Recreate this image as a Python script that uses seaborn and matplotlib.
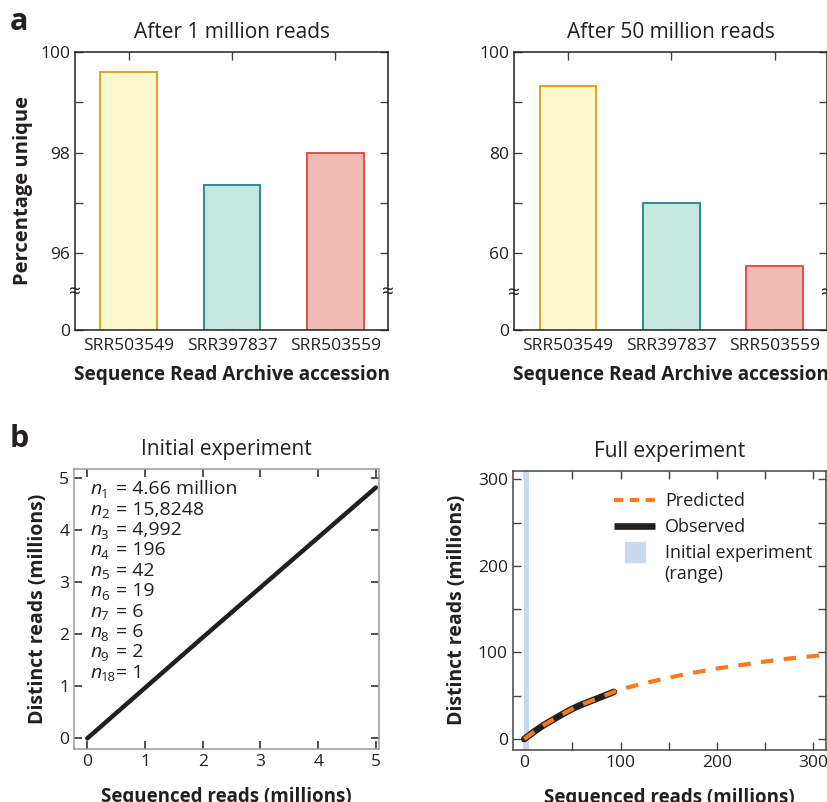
import numpy as np
import pandas as pd
import matplotlib
matplotlib.use('Agg')
import matplotlib.pyplot as plt
from matplotlib.lines import Line2D
import seaborn as sns

# ---- data ----
accessions = ['SRR503549', 'SRR397837', 'SRR503559']
unique_1m = [99.6, 97.35, 98.0]
unique_50m = [93.3, 69.9, 57.5]

init_seq = [0, 1, 2, 3, 4, 5]
init_distinct = [0, 0.97, 1.94, 2.90, 3.86, 4.82]

n_labels = ['1', '2', '3', '4', '5', '6', '7', '8', '9', '18']
n_values = ['4.66 million', '15,8248', '4,992', '196', '42', '19', '6', '6', '2', '1']

pred_seq = [0, 10, 20, 30, 40, 50, 60, 75, 93, 100, 125, 150, 175, 200, 225, 250, 275, 310]
pred_distinct = [0, 8.3, 16, 22.5, 29, 35, 40, 46.5, 54.5, 57.5, 64.5, 71, 76.5, 81.5,
                 85.5, 89.5, 93, 97]
obs_seq = [0, 10, 20, 30, 40, 50, 60, 75, 93]
obs_distinct = [0, 8.3, 16, 22.5, 29, 35, 40, 46.5, 54.5]
init_range = (0, 5)

fills = ['#fff8cc', '#c6e6e0', '#f1bab2']
edges = ['#e2a21c', '#2e8c8a', '#e05048']

sns.set_style('ticks')
plt.rcParams['font.family'] = ['Open Sans', 'DejaVu Sans']
plt.rcParams['text.color'] = '#231f20'
plt.rcParams['axes.labelcolor'] = '#231f20'
plt.rcParams['xtick.color'] = '#231f20'
plt.rcParams['ytick.color'] = '#231f20'

fig = plt.figure(figsize=(8.28, 8.02), dpi=100)
ax1 = fig.add_axes([0.0906, 0.5885, 0.378, 0.3467])
ax2 = fig.add_axes([0.6211, 0.5885, 0.378, 0.3467])
ax3 = fig.add_axes([0.0894, 0.0657, 0.3687, 0.3491])
ax4 = fig.add_axes([0.6192, 0.0648, 0.3784, 0.3483])


def bar_panel(ax, values, title, floor, ticks, minors, brk):
    df = pd.DataFrame({'acc': accessions, 'pct': values})
    sns.barplot(data=df, x='acc', y='pct', hue='acc', palette=fills, saturation=1,
                width=0.55, legend=False, ax=ax)
    for p, ec in zip(ax.patches, edges):
        p.set_edgecolor(ec)
        p.set_linewidth(1.4)
    ax.set_ylim(floor, 100)
    ax.set_xlim(-0.52, 2.51)
    ax.set_yticks([floor] + ticks)
    ax.set_yticklabels(['0'] + [str(t) for t in ticks])
    ax.set_yticks(minors, minor=True)
    ax.tick_params(axis='both', which='both', direction='in', top=True, right=True,
                   length=5.5, width=1, color='#444', labelsize=12.5)
    ax.tick_params(axis='x', pad=6)
    for s in ax.spines.values():
        s.set_color('#231f20')
        s.set_linewidth(1.1)
    ax.set_title(title, fontsize=15, pad=10)
    ax.set_xlabel('Sequence Read Archive accession', fontsize=13.7, fontweight='bold',
                  labelpad=8)
    ax.set_ylabel('')
    for xx in (0, 1):
        ax.text(xx, brk, '≈', transform=ax.get_yaxis_transform(), ha='center',
                va='center', fontsize=15, color='#231f20', clip_on=False)


bar_panel(ax1, unique_1m, 'After 1 million reads', 94.47, [96, 98, 100], [97, 99], 95.21)
bar_panel(ax2, unique_50m, 'After 50 million reads', 44.75, [60, 80, 100], [70, 90], 52.1)
ax1.set_ylabel('Percentage unique', fontsize=14.5, fontweight='bold', labelpad=5)

# ---- initial experiment ----
sns.lineplot(x=init_seq, y=init_distinct, color='#231f20', lw=3.2, ax=ax3)
ax3.set_xlim(-0.23, 5.06)
ax3.set_ylim(-0.21, 5.17)
ax3.set_xticks(range(6))
ax3.set_yticks(range(6))
ax3.tick_params(direction='in', top=True, right=True, length=5.5, width=1.1,
                color='#231f20', labelsize=12.5)
for s in ax3.spines.values():
    s.set_color('#9a9a9a')
    s.set_linewidth(1.1)
ax3.set_title('Initial experiment', fontsize=15, pad=10)
ax3.set_xlabel('Sequenced reads (millions)', fontsize=13.5, fontweight='bold', labelpad=12)
ax3.set_ylabel('Distinct reads (millions)', fontsize=14, fontweight='bold', labelpad=8)
for i, (lab, val) in enumerate(zip(n_labels, n_values)):
    yy = 4.79 - i * 0.392
    ax3.text(0.05, yy, 'n', fontsize=14, style='italic', va='center', ha='left')
    ax3.text(0.235, yy - 0.1, lab, fontsize=9.5, va='center', ha='left')
    ax3.text(0.5, yy, '= ' + val, fontsize=14, va='center', ha='left')

# ---- full experiment ----
ax4.axvspan(init_range[0], init_range[1], color='#c9d8ec', lw=0)
sns.lineplot(x=obs_seq, y=obs_distinct, color='#231f20', lw=4.8, ax=ax4)
sns.lineplot(x=pred_seq, y=pred_distinct, color='#f47b20', lw=3, ax=ax4)
ax4.lines[-1].set_dashes((3, 2.5))
ax4.set_xlim(-12, 313)
ax4.set_ylim(-12.7, 310)
ax4.set_xticks([0, 100, 200, 300])
ax4.set_xticks([50, 150, 250], minor=True)
ax4.set_yticks([0, 100, 200, 300])
ax4.set_yticks([50, 150, 250], minor=True)
ax4.tick_params(which='both', direction='in', top=True, right=True, length=5.5, width=1,
                color='#444', labelsize=12.5)
for s in ax4.spines.values():
    s.set_color('#444')
    s.set_linewidth(1.1)
ax4.set_title('Full experiment', fontsize=15, pad=10)
ax4.set_xlabel('Sequenced reads (millions)', fontsize=13.5, fontweight='bold', labelpad=12)
ax4.set_ylabel('Distinct reads (millions)', fontsize=14, fontweight='bold', labelpad=8)
handles = [Line2D([], [], color='#f47b20', lw=3, dashes=(2.2, 1.6)),
           Line2D([], [], color='#231f20', lw=4.8, solid_capstyle='butt'),
           Line2D([], [], color='#c9d8ec', marker='s', ls='none', markersize=15)]
leg = ax4.legend(handles, ['Predicted', 'Observed', 'Initial experiment'],
                 loc='upper left', bbox_to_anchor=(0.3, 0.95), frameon=False, fontsize=13,
                 handlelength=2.3, labelspacing=0.45, handletextpad=0.55, borderaxespad=0)
ax4.text(0.484, 0.63, '(range)', transform=ax4.transAxes, fontsize=13, va='center',
         ha='left')

fig.text(0.012, 0.972, 'a', fontsize=22, fontweight='bold', va='center')
fig.text(0.012, 0.452, 'b', fontsize=22, fontweight='bold', va='center')

fig.savefig('out.png', dpi=100)
